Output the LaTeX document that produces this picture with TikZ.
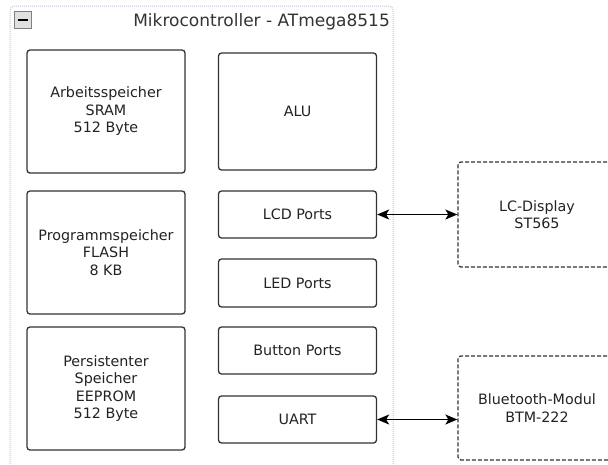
\documentclass[tikz,border=0pt]{standalone}
\usepackage{fontspec}
\setmainfont{DejaVu Sans}
\usetikzlibrary{arrows.meta}
\definecolor{boxline}{HTML}{333333}
\definecolor{frameline}{HTML}{C4C4DC}
\definecolor{txt}{HTML}{222222}
\tikzset{
  unitbox/.style={draw=boxline, line width=1.3pt, rounded corners=3pt,
    minimum width=158pt, align=center, text=txt, inner sep=0pt,
    font=\fontsize{14.3}{17.5}\selectfont},
  extbox/.style={unitbox, dash pattern=on 4pt off 2pt},
  link/.style={draw=black, line width=1.4pt, {Stealth[length=12pt,width=10pt,inset=3pt]}-{Stealth[length=12pt,width=10pt,inset=3pt]}},
  container/.style={draw=frameline, line width=1pt, dash pattern=on 1pt off 1pt, rounded corners=4pt},
  togglebtn/.style={draw=gray, fill=black!12, line width=1pt, minimum size=17pt, inner sep=0pt},
  titletext/.style={text=black!80, font=\fontsize{17}{20}\selectfont, inner sep=0pt}
}
\begin{document}
\begin{tikzpicture}[x=1pt,y=-1pt]
\useasboundingbox (0,0) rectangle (608,464);
\clip (0,0) rectangle (608,464);
\draw[container] (10,480) -- (10,6) -- (393,6) -- (393,480);
\node[togglebtn] (toggle) at (23,20) {};
\draw[black, line width=2pt] ([xshift=4pt]toggle.west) -- ([xshift=-4pt]toggle.east);
\node[titletext, anchor=base east] (title) at (390,26) {Mikrocontroller - ATmega8515};
% left column
\node[unitbox, minimum height=123pt] (sram) at (106,111.5) {Arbeitsspeicher\\SRAM\\512 Byte};
\node[unitbox, minimum height=123pt] (flash) at (106,252.5) {Programmspeicher\\FLASH\\8 KB};
\node[unitbox, minimum height=123pt] (eeprom) at (106,388.5) {Persistenter\\Speicher\\EEPROM\\512 Byte};
% right column
\node[unitbox, minimum height=117pt] (alu) at (297.5,111.5) {ALU};
\node[unitbox, minimum height=47pt] (lcd) at (297.5,214.5) {LCD Ports};
\node[unitbox, minimum height=48pt] (led) at (297.5,283) {LED Ports};
\node[unitbox, minimum height=47pt] (btn) at (297.5,350.5) {Button Ports};
\node[unitbox, minimum height=47pt] (uart) at (297.5,419.5) {UART};
% external
\node[extbox, minimum height=105pt] (disp) at (537,214.5) {LC-Display\\ST565};
\node[extbox, minimum height=104pt] (bt) at (537,408) {Bluetooth-Modul\\BTM-222};
% links
\draw[link] (lcd.east) -- (disp.west);
\draw[link] (uart.east) -- (uart.east -| bt.west);
\end{tikzpicture}
\end{document}
